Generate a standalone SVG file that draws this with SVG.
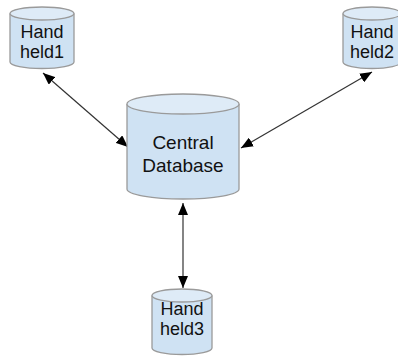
<svg xmlns="http://www.w3.org/2000/svg" width="398" height="357" viewBox="0 0 398 357">
<style>
.body{fill:#cfe2f3;stroke:#9a9a9a;stroke-width:1.3}
.top{fill:#deebf7;stroke:#9a9a9a;stroke-width:1.3}
.lbl{font-family:"Liberation Sans",Arial,sans-serif;font-size:18px;fill:#111;text-anchor:middle}
.big{font-size:19px}
.conn{stroke:#333;stroke-width:1.2;fill:none;marker-start:url(#ah);marker-end:url(#ah)}
</style>
<defs>
<marker id="ah" viewBox="0 0 12 10" refX="12" refY="5" markerWidth="12" markerHeight="10" markerUnits="userSpaceOnUse" orient="auto-start-reverse">
<path d="M0,0 L12,5 L0,10 z" fill="#000"/>
</marker>
</defs>
<rect width="398" height="357" fill="#fff"/>
<g id="connectors">
<line class="conn" x1="43" y1="73" x2="128" y2="147"/>
<line class="conn" x1="372" y1="72" x2="241" y2="148"/>
<line class="conn" x1="183" y1="203" x2="183" y2="288"/>
</g>
<g id="handheld1">
<path class="body" d="M10,13.5 V62 A32,6.5 0 0 0 74,62 V13.5"/>
<ellipse class="top" cx="42" cy="13.5" rx="32" ry="6.5"/>
<text class="lbl" x="42" y="38">Hand</text>
<text class="lbl" x="42" y="58">held1</text>
</g>
<g id="handheld2">
<path class="body" d="M343,13.5 V62 A29,6.5 0 0 0 401,62 V13.5"/>
<ellipse class="top" cx="372" cy="13.5" rx="29" ry="6.5"/>
<text class="lbl" x="372" y="38">Hand</text>
<text class="lbl" x="372" y="58">held2</text>
</g>
<g id="central">
<path class="body" d="M127,104 V189 A56,10 0 0 0 239,189 V104"/>
<ellipse class="top" cx="183" cy="104" rx="56" ry="10"/>
<text class="lbl big" x="183" y="149">Central</text>
<text class="lbl big" x="183" y="172">Database</text>
</g>
<g id="handheld3">
<path class="body" d="M152,295.5 V348 A30,6.5 0 0 0 212,348 V295.5"/>
<ellipse class="top" cx="182" cy="295.5" rx="30" ry="6.5"/>
<text class="lbl" x="182" y="315">Hand</text>
<text class="lbl" x="182" y="335">held3</text>
</g>
</svg>
